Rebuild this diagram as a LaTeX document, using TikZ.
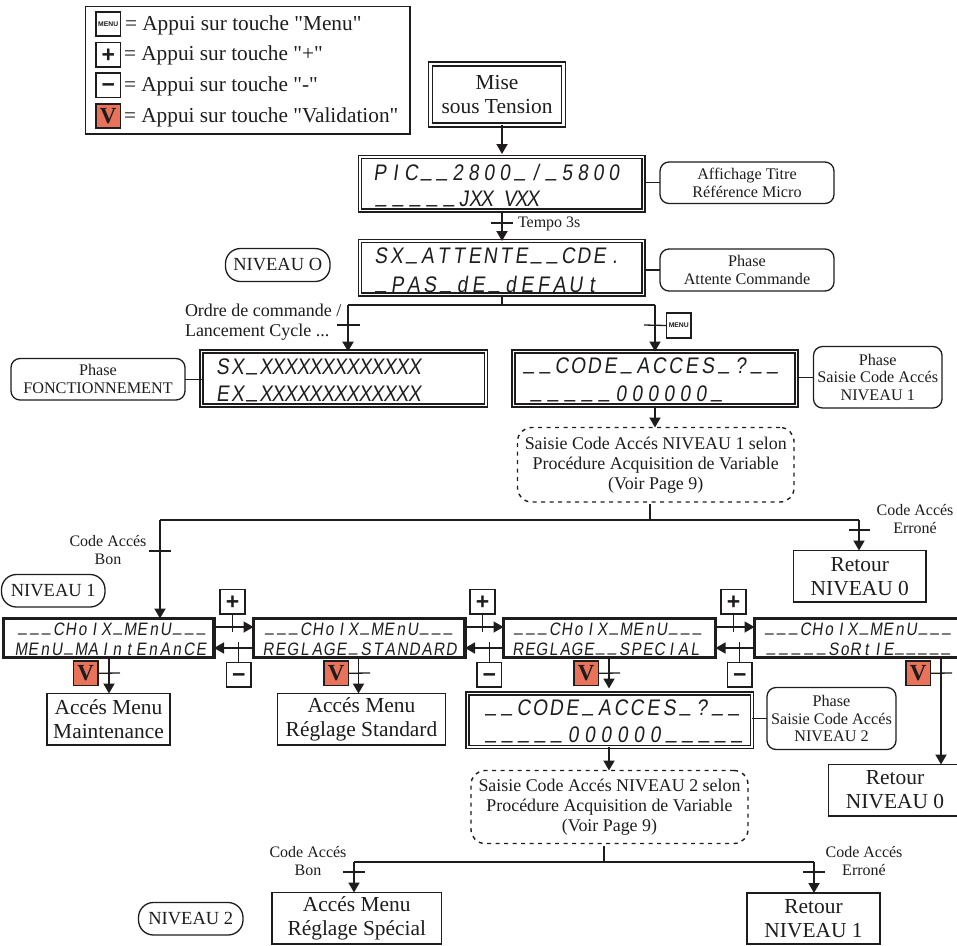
\documentclass[tikz,border=0pt]{standalone}
\usepackage{fontspec}
\usetikzlibrary{arrows.meta,calc}
\setmainfont[Ligatures=TeXOff]{Liberation Serif}
\setsansfont{Liberation Sans}
\newfontfamily\lcdfam[FakeSlant=0.14,FakeStretch=0.85]{Liberation Sans}
\definecolor{keyred}{HTML}{E8735A}
\definecolor{ink}{HTML}{1E1C1C}
\makeatletter
\def\lcdbar{-}
\newcommand\lcdrow[2]{\@tfor\lcdc:=#2\do{\hbox to #1pt{\hss\ifx\lcdc\lcdbar\raisebox{.17em}{\_}\else\lcdc\fi\hss}}}
\makeatother
\newcommand\sgn[1]{\smash{\raisebox{-.33em}{#1}}}
\newcommand\bx[7]{%
  \pgfmathsetmacro\bxcx{(#2+#4)/2}\pgfmathsetmacro\bxcy{(#3+#5)/2}%
  \pgfmathsetmacro\bxw{abs(#4-#2)}\pgfmathsetmacro\bxh{abs(#5-#3)}%
  \node[#6,minimum width=\bxw pt,minimum height=\bxh pt] (#1) at (\bxcx,\bxcy) {#7};}
\newcommand\tk[4]{\coordinate (#1a) at (#2,#4);\coordinate (#1b) at (#3,#4);\draw[tickline] (#1a) -- (#1b);}
\tikzset{
  every node/.style={inner sep=0pt,outer sep=0pt,text=ink},
  conn/.style={draw=ink,line width=1.9pt},
  arr/.style={conn,-{Triangle[length=10pt,width=11pt]}},
  tickline/.style={draw=ink,line width=1.3pt},
  lead/.style={draw=ink,line width=1.2pt},
  lcddouble/.style={draw=ink,line width=1.7pt,double=white,double distance=1pt},
  lcdthin/.style={draw=ink,line width=1.3pt,double=white,double distance=1.6pt},
  lcdthick/.style={draw=ink,line width=3.2pt},
  bigbox/.style={draw=ink,line width=1.4pt,align=center,font=\fontsize{21.4}{24}\selectfont},
  callout/.style={draw=ink,line width=1.3pt,rounded corners=9pt,align=center,font=\fontsize{16.2}{17.7}\selectfont},
  pill/.style={draw=ink,line width=1.3pt,rounded corners=15pt,font=\fontsize{18.5}{20}\selectfont},
  dashbox/.style={draw=ink,line width=1.4pt,dash pattern=on 4pt off 4.5pt,rounded corners=14pt,align=center,font=\fontsize{17.9}{20}\selectfont},
  keybox/.style={draw=ink,line width=1.4pt,fill=white},
  menukey/.style={keybox,font=\fontsize{6.8}{7}\sffamily\bfseries},
  signkey/.style={keybox,font=\fontsize{23}{23}\sffamily\bfseries},
  vkey/.style={keybox,fill=keyred,font=\fontsize{23}{23}\bfseries},
  lcdbig/.style={anchor=base west,font=\fontsize{22.5}{23}\lcdfam},
  lcdsmall/.style={anchor=base west,font=\fontsize{18}{19}\lcdfam},
  legendtxt/.style={anchor=base west,font=\fontsize{21.3}{22}\selectfont},
  smalltxt/.style={align=center,font=\fontsize{16}{18}\selectfont},
  ordertxt/.style={anchor=base west,font=\fontsize{18}{20}\selectfont},
}
\begin{document}
\begin{tikzpicture}[x=1pt,y=-1pt]
\clip (0,0) rectangle (957,945);
\useasboundingbox (0,0) rectangle (957,945);
% legend
\bx{legend}{85.5}{6.5}{410}{134}{draw=ink,line width=1.4pt}{}
\bx{kmenu}{96}{12}{120.5}{36}{menukey}{MENU}
\bx{kplus}{96}{42.5}{120.5}{67}{signkey}{\sgn{+}}
\bx{kminus}{96}{73}{120.5}{97.5}{signkey}{\sgn{−}}
\bx{kv}{96}{104}{120.5}{128}{vkey}{V}
\node[legendtxt] (ltxta) at (125,30) {= Appui sur touche "Menu"};
\node[legendtxt] (ltxtb) at (124,60) {= Appui sur touche "+"};
\node[legendtxt] (ltxtc) at (124,91) {= Appui sur touche "-"};
\node[legendtxt] (ltxtd) at (124,122) {= Appui sur touche "Validation"};
% top
\bx{mise}{430.5}{64}{563.5}{125}{draw=ink,line width=1.3pt,double=white,double distance=2.6pt,align=center,font=\fontsize{21.4}{24}\selectfont}{Mise\\sous Tension}
\bx{lcda}{360}{157}{643.5}{210.5}{lcdthin}{}
\bx{lcdb}{360}{241}{643.5}{294.5}{lcdthin}{}
\node[lcdbig] (ra) at (372,180) {\lcdrow{15.6}{PIC--2800-/-5800}};
\node[lcdbig] (rb) at (373,206) {\lcdrow{17}{-----}\lcdrow{11.5}{JXX~VXX}};
\node[lcdbig] (rc) at (373,263) {\lcdrow{15.6}{SX-ATTENTE--CDE.}};
\node[lcdbig] (rd) at (373,292) {\lcdrow{16.2}{-PAS-dE-dEFAUt}};
\bx{caa}{660}{162}{834}{203.5}{callout}{Affichage Titre\\Référence Micro}
\bx{cab}{660}{249}{834}{291}{callout}{Phase\\Attente Commande}
\draw[lead] (lcda.east |- caa.west) -- (caa.west);
\draw[lead] (lcdb.east |- cab.west) -- (cab.west);
\bx{nzero}{225.5}{248.5}{330}{281.5}{pill}{NIVEAU O}
\coordinate (cx) at (502,223);
\draw[arr,shorten >=3pt] (mise.south -| cx) -- (lcda.north -| cx);
\draw[arr] (lcda.south -| cx) -- (lcdb.north -| cx);
\tk{ta}{491}{513}{223}
\node[smalltxt,anchor=west] (tempo) at (518,224) {Tempo 3s};
% branch
\bx{lcdc}{201.5}{351.5}{486}{405.5}{lcdthin}{}
\bx{lcdd}{513.5}{351.5}{796.5}{405.5}{lcddouble}{}
\node[lcdbig] (re) at (215,374) {\lcdrow{15}{SX}\lcdrow{14.5}{-}\lcdrow{12.4}{XXXXXXXXXXXXX}};
\node[lcdbig] (rf) at (215,401) {\lcdrow{15}{EX}\lcdrow{14.5}{-}\lcdrow{12.4}{XXXXXXXXXXXXX}};
\node[lcdbig] (rg) at (521,373) {\lcdrow{16.25}{--CODE-ACCES-?--}};
\node[lcdbig] (rh) at (528,401) {\lcdrow{17}{-----}\lcdrow{16}{000000-}};
\coordinate (jl) at (348,305);\coordinate (jm) at (502,305);\coordinate (jr) at (655,305);
\draw[lead,line width=1.5pt] (lcdb.south -| jm) -- (jm);
\draw[lead,line width=1.5pt] (jl) -- (jr);
\draw[arr,line width=2.6pt] (jl) -- (lcdc.north -| jl);
\draw[arr] (jr) -- (lcdd.north -| jr);
\tk{tb}{337}{360}{325}
\bx{kmenub}{666.5}{313}{691}{338}{menukey}{MENU}
\coordinate (tcl) at (644,325);
\draw[tickline] (tcl) -- (kmenub.west);
\node[ordertxt] (oa) at (185,316) {Ordre de commande /};
\node[ordertxt] (ob) at (185,336) {Lancement Cycle ...};
\bx{cac}{11}{358.5}{185}{400}{callout}{Phase\\FONCTIONNEMENT}
\draw[lead] (cac.east) -- (lcdc.west |- cac.east);
\bx{cad}{813.5}{346.5}{942}{408}{callout}{Phase\\Saisie Code Accés\\NIVEAU 1}
\draw[lead] (lcdd.east |- cad.west) -- (cad.west);
\bx{daa}{517.5}{427.5}{794}{502}{dashbox}{Saisie Code Accés NIVEAU 1 selon\\Procédure Acquisition de Variable\\(Voir Page 9)}
\draw[arr] (lcdd.south -| jr) -- (daa.north -| jr);
% level 1 split
\coordinate (sl) at (160,520);\coordinate (sm) at (650,520);\coordinate (sr) at (859,520);
\draw[conn,line width=1.6pt] (sl) -- (sr);
\draw[conn] (daa.south -| sm) ++(0,2) -- (sm);
\node[smalltxt] (cbg) at (108,550) {Code Accés\\Bon};
\node[smalltxt] (cer) at (915,519) {Code Accés\\Erroné};
\tk{tc}{149}{171}{551}
\tk{td}{849}{870}{530}
\bx{reta}{793.5}{550.5}{926}{602}{bigbox}{Retour\\NIVEAU 0}
\draw[arr] (sr) -- (reta.north -| sr);
\bx{none}{1.5}{574.5}{105}{607}{pill}{NIVEAU 1}
% menu displays
\bx{ma}{3.5}{618.5}{214}{657.5}{lcdthick}{}
\bx{mb}{253.5}{618.5}{465}{657.5}{lcdthick}{}
\bx{mc}{503.5}{618.5}{715.5}{657.5}{lcdthick}{}
\bx{md}{754.5}{618.5}{970}{657.5}{lcdthick}{}
\draw[arr] (sl) -- (ma.north -| sl);
\node[lcdsmall] (ta1) at (17,635) {\lcdrow{11.9}{---CHoIX-MEnU---}};
\node[lcdsmall] (ta2) at (15,655) {\lcdrow{12}{MEnU-MAIntEnAnCE}};
\node[lcdsmall] (tb1) at (264,635) {\lcdrow{11.9}{---CHoIX-MEnU---}};
\node[lcdsmall] (tb2) at (262,655) {\lcdrow{12.2}{REGLAGE-STANDARD}};
\node[lcdsmall] (tc1) at (513,635) {\lcdrow{11.9}{---CHoIX-MEnU---}};
\node[lcdsmall] (tc2) at (512,655) {\lcdrow{11.8}{REGLAGE--SPECIAL}};
\node[lcdsmall] (td1) at (764,635) {\lcdrow{11.8}{---CHoIX-MEnU---}};
\node[lcdsmall] (td2) at (765,655) {\lcdrow{12.6}{-----}\lcdrow{11}{SoRtIE}\lcdrow{11.6}{-----}};
\coordinate (rowt) at (0,627);\coordinate (rowb) at (0,648);
\coordinate (tkt) at (0,632);\coordinate (tkb) at (0,642);
\draw[arr,line width=1.6pt] (ma.east |- rowt) -- (mb.west |- rowt);
\draw[arr,line width=1.6pt] (mb.west |- rowb) -- (ma.east |- rowb);
\draw[arr,line width=1.6pt] (mb.east |- rowt) -- (mc.west |- rowt);
\draw[arr,line width=1.6pt] (mc.west |- rowb) -- (mb.east |- rowb);
\draw[arr,line width=1.6pt] (mc.east |- rowt) -- (md.west |- rowt);
\draw[arr,line width=1.6pt] (md.west |- rowb) -- (mc.east |- rowb);
\bx{pa}{220}{589.5}{245}{614}{signkey}{\sgn{+}}
\bx{pb}{470}{589.5}{495}{614}{signkey}{\sgn{+}}
\bx{pc}{721}{589.5}{746}{614}{signkey}{\sgn{+}}
\bx{na}{226.5}{662.5}{251}{687}{signkey}{\sgn{−}}
\bx{nb}{477}{662.5}{501.5}{687}{signkey}{\sgn{−}}
\bx{nc}{727.5}{662.5}{752}{687}{signkey}{\sgn{−}}
\foreach \k in {pa,pb,pc} {\draw[tickline] (\k.south) -- (\k.south |- tkt);}
\foreach \k in {na,nb,nc} {\draw[tickline] (\k.north) -- (\k.north |- tkb);}
\bx{va}{73.5}{661}{98}{685.5}{vkey}{V}
\bx{vb}{324}{661}{348.5}{685.5}{vkey}{V}
\bx{vc}{574}{661}{598.5}{685.5}{vkey}{V}
\bx{vd}{906}{661}{930.5}{685.5}{vkey}{V}
\bx{acm}{47}{693.5}{170}{745}{bigbox}{Accés Menu\\Maintenance}
\bx{acs}{277.5}{693.5}{445.5}{745}{bigbox}{Accés Menu\\Réglage Standard}
\bx{lcde}{467.5}{693.5}{752}{747}{lcdthin}{}
\node[lcdbig] (ri) at (483,715) {\lcdrow{16.2}{--CODE-ACCES-?--}};
\node[lcdbig] (rj) at (483,742) {\lcdrow{16.4}{-----000000-----}};
\bx{cae}{767}{687.5}{896}{749.5}{callout}{Phase\\Saisie Code Accés\\NIVEAU 2}
\draw[lead] (lcde.east |- cae.west) -- (cae.west);
\bx{retb}{828.5}{764.5}{965}{816}{bigbox}{}
\node[font=\fontsize{21.4}{24}\selectfont,align=center] (retbt) at (895,790) {Retour\\NIVEAU 0};
\coordinate (xa) at (109,673);\coordinate (xb) at (358.5,673);\coordinate (xc) at (609,673);\coordinate (xd) at (941,673);
\draw[arr] (ma.south -| xa) -- (acm.north -| xa);
\draw[arr] (mb.south -| xb) -- (acs.north -| xb);
\draw[arr,shorten >=5pt] (mc.south -| xc) -- (lcde.north -| xc);
\draw[arr] (md.south -| xd) -- (retb.north -| xd);
\coordinate (xae) at (120,673);\coordinate (xbe) at (370,673);\coordinate (xce) at (620,673);\coordinate (xde) at (952,673);
\draw[tickline] (va.east) -- (xae);
\draw[tickline] (vb.east) -- (xbe);
\draw[tickline] (vc.east) -- (xce);
\draw[tickline] (vd.east) -- (xde);
\bx{dab}{471}{770.5}{748}{843.5}{dashbox}{Saisie Code Accés NIVEAU 2 selon\\Procédure Acquisition de Variable\\(Voir Page 9)}
\draw[arr] (lcde.south -| xc) -- (dab.north -| xc);
% level 2 split
\coordinate (ul) at (354,862);\coordinate (um) at (604,862);\coordinate (ur) at (814,862);
\draw[conn,line width=1.6pt] (ul) -- (ur);
\draw[conn] (dab.south -| um) ++(0,2) -- (um);
\bx{acr}{272}{892.5}{441.5}{944}{bigbox}{Accés Menu\\Réglage Spécial}
\bx{retc}{747}{893}{880}{944}{bigbox}{Retour\\NIVEAU 1}
\draw[arr] (ul) -- (acr.north -| ul);
\draw[arr] (ur) -- (retc.north -| ur);
\tk{te}{343}{365}{872}
\tk{tf}{803}{825}{872}
\node[smalltxt] (cbh) at (308,861) {Code Accés\\Bon};
\node[smalltxt] (cei) at (864,861) {Code Accés\\Erroné};
\bx{ntwo}{138.5}{902.5}{243}{935}{pill}{NIVEAU 2}
\end{tikzpicture}
\end{document}
